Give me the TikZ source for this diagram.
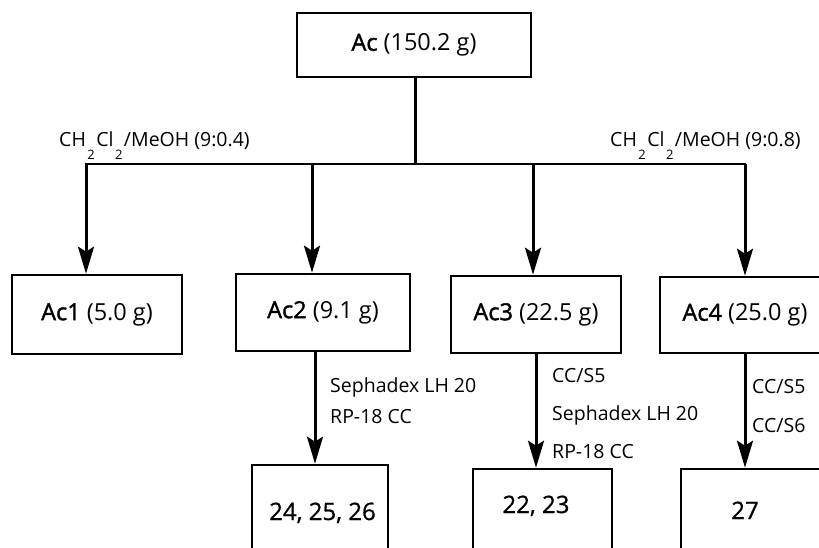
\documentclass[tikz,border=0pt]{standalone}
\usepackage{fontspec}
\setmainfont{Open Sans}
\newfontface\semib[FakeBold=1.6]{Open Sans}
\newfontface\medw[FakeBold=0.9]{Open Sans}
\usetikzlibrary{arrows.meta}
\tikzset{
  box/.style={draw=black, line width=2.6pt, rectangle, inner sep=0pt, font=\fontsize{23.5}{26}\selectfont},
  numbox/.style={draw=black, line width=2.6pt, rectangle, inner sep=0pt},
  numtext/.style={anchor=base, inner sep=0pt, font=\fontsize{24}{26}\medw},
  lbl/.style={anchor=base west, inner sep=0pt, font=\fontsize{19.5}{21}\selectfont},
  arr/.style={line width=3pt, -{Stealth[length=27pt,width=16pt,inset=5pt]}},
  trunk/.style={line width=3pt},
  bar/.style={line width=2.2pt, line cap=rect}
}
\newcommand{\lowtwo}{\hspace{1.5pt}\raisebox{-13pt}{\fontsize{13}{13}\selectfont 2}\hspace{1.5pt}}
\newcommand{\acname}[1]{{\semib #1}}
\begin{document}
\begin{tikzpicture}[x=1pt,y=-1pt]
\useasboundingbox (0,0) rectangle (819,547);
\clip (0,0) rectangle (819,547);
\fill[white] (0,0) rectangle (819,547);

% top box
\node[box, minimum width=234pt, minimum height=64pt] (Ac) at (414,45) {\acname{Ac} (150.2 g)};

% second row
\node[box, minimum width=170pt, minimum height=79pt] (Ac1) at (97,314.5) {\acname{Ac1} (5.0 g)};
\node[box, minimum width=174pt, minimum height=77pt] (Ac2) at (323,312.5) {\acname{Ac2} (9.1 g)};
\node[box, minimum width=170pt, minimum height=77pt] (Ac3) at (536,314.5) {\acname{Ac3} (22.5 g)};
\node[box, minimum width=170pt, minimum height=76pt] (Ac4) at (745,315) {\acname{Ac4} (25.0 g)};

% bottom boxes (extend below the picture)
\node[numbox, minimum width=136pt, minimum height=120pt] (B24) at (320,525) {};
\node[numbox, minimum width=139pt, minimum height=120pt] (B22) at (542.5,529) {};
\node[numbox, minimum width=150pt, minimum height=120pt] (B27) at (756,529) {};
\node[numtext] (T24) at (322.5,520) {24, 25, 26};
\node[numtext] (T22) at (536,513) {22, 23};
\node[numtext] (T27) at (745,519) {27};

% trunk and distribution bar
\coordinate (j) at (415,164);
\coordinate (d1) at (86,164);
\coordinate (d2) at (312,164);
\coordinate (d3) at (533,164);
\coordinate (d4) at (745,164);
\draw[trunk] (Ac.south -| j) -- (j);
\draw[bar] (d1) -- (d4);

\draw[arr] (d1) -- (d1 |- Ac1.north);
\draw[arr] (d2) -- (d2 |- Ac2.north);
\draw[arr] (d3) -- (d3 |- Ac3.north);
\draw[arr] (d4) -- (d4 |- Ac4.north);

% lower arrows
\draw[arr] ([xshift=-8pt]Ac2.south) -- ([xshift=-8pt]Ac2.south |- B24.north);
\draw[arr] (Ac3.south) -- (Ac3.south |- B22.north);
\draw[arr] (Ac4.south) -- (Ac4.south |- B27.north);

% labels
\node[lbl] (L1) at (59,146) {CH\lowtwo Cl\lowtwo/MeOH (9:0.4)};
\node[lbl] (L2) at (610,146) {CH\lowtwo Cl\lowtwo/MeOH (9:0.8)};

\node[lbl] (S2a) at (330,392) {Sephadex LH 20};
\node[lbl] (S2b) at (330,423) {RP-18 CC};

\node[lbl] (S3a) at (552,382) {CC/S5};
\node[lbl] (S3b) at (552,420) {Sephadex LH 20};
\node[lbl] (S3c) at (552,458) {RP-18 CC};

\node[lbl] (S4a) at (752,393) {CC/S5};
\node[lbl] (S4b) at (752,432) {CC/S6};
\end{tikzpicture}
\end{document}
